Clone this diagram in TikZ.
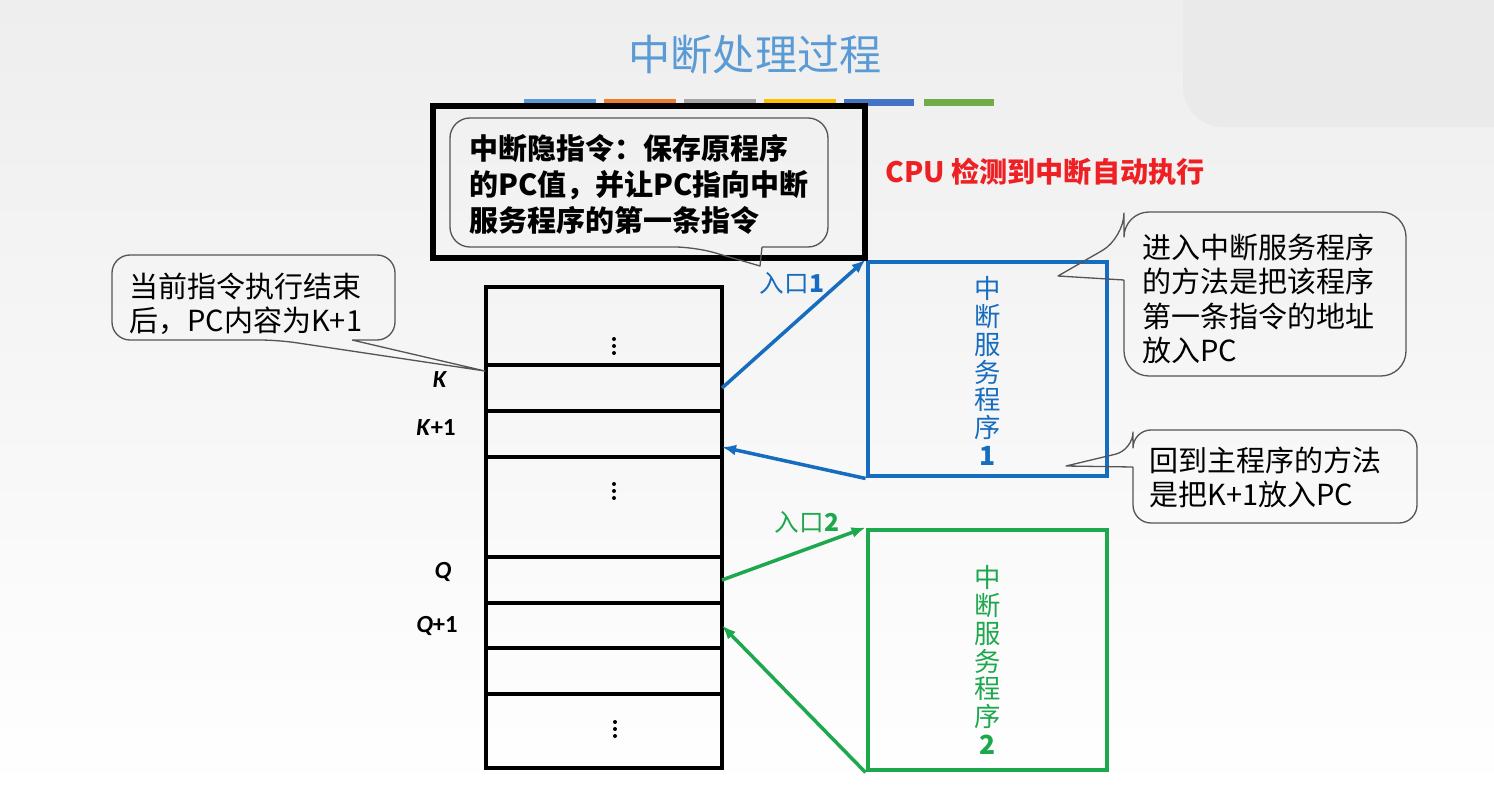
\documentclass[tikz,border=0pt]{standalone}
\usepackage{fontspec}
\usepackage{tikz}
\usetikzlibrary{arrows.meta, positioning, calc}
\newfontfamily\cjk{Noto Sans CJK SC}
\newfontfamily\latinfont{Carlito}
\definecolor{titleblue}{RGB}{91,155,213}
\definecolor{barorange}{RGB}{237,125,49}
\definecolor{bargray}{RGB}{165,165,165}
\definecolor{baryellow}{RGB}{255,192,0}
\definecolor{bardarkblue}{RGB}{68,114,196}
\definecolor{bargreen}{RGB}{112,173,71}
\definecolor{isrblue}{RGB}{22,108,190}
\definecolor{isrgreen}{RGB}{30,168,78}
\definecolor{alertred}{RGB}{238,32,36}
\definecolor{bubbleline}{RGB}{85,85,85}
\definecolor{bgtop}{RGB}{238,238,238}
\definecolor{bgshape}{RGB}{234,234,234}

\begin{document}
\begin{tikzpicture}[x=0.2mm, y=-0.2mm,
    cell/.style={draw, line width=2pt, minimum width=47.2mm, inner sep=0pt, outer sep=0pt},
    isrbox/.style={draw, line width=2.8pt, minimum width=47.8mm, inner sep=0pt},
    bubble/.style={draw=bubbleline, line width=0.75pt, line join=round},
    bubbletext/.style={font=\cjk\fontsize{16.5}{19.5}\selectfont, align=left, inner sep=0pt, anchor=west},
    vtext/.style={font=\cjk\fontsize{15}{15.8}\selectfont, align=center, inner sep=0pt},
    addr/.style={font=\latinfont\bfseries\fontsize{14}{14}\selectfont, inner sep=0pt},
    entry/.style={font=\cjk\fontsize{14}{14}\selectfont, inner sep=0pt},
    jump/.style={line width=2pt, -{Latex[length=2.8mm, width=2.2mm]}},
    dot/.style={fill=black}
]
    \useasboundingbox (0,0) rectangle (1494,796);
    \shade[top color=bgtop, bottom color=white] (0,0) rectangle (1494,796);
    \fill[bgshape, rounded corners=8mm] (1183,-100) rectangle (1600,127);

    \node[font=\cjk\fontsize{24}{24}\selectfont, text=titleblue] (title) at (755,55) {中断处理过程};
    \fill[titleblue] (524,99) rectangle (596,106);
    \fill[barorange] (604,99) rectangle (676,106);
    \fill[bargray] (684,99) rectangle (756,106);
    \fill[baryellow] (764,99) rectangle (836,106);
    \fill[bardarkblue] (844,99) rectangle (914,106);
    \fill[bargreen] (924,99) rectangle (994,106);

    \node[font=\cjk\bfseries\fontsize{16}{16}\selectfont, text=alertred] (cpu) at (1045,172) {CPU 检测到中断自动执行};

    \node[cell, minimum height=15.6mm] (mtop) at (604,326) {};
    \node[cell, minimum height=9.2mm] (mK) at (604,388) {};
    \node[cell, minimum height=9.2mm] (mK1) at (604,434) {};
    \node[cell, minimum height=20mm] (mmid) at (604,507) {};
    \node[cell, minimum height=9.2mm] (mQ) at (604,580) {};
    \node[cell, minimum height=9mm] (mQ1) at (604,625.5) {};
    \node[cell, minimum height=9.2mm] (mR) at (604,671) {};
    \node[cell, minimum height=14.8mm] (mbot) at (604,731) {};

    \fill[dot] (614,339) circle (2) (614,346) circle (2) (614,353) circle (2);
    \fill[dot] (614,484) circle (2) (614,491) circle (2) (614,498) circle (2);
    \fill[dot] (615,722) circle (2) (615,729) circle (2) (615,736) circle (2);

    \node[addr] (lK) at (440,380) {\textit{K}};
    \node[addr] (lK1) at (436,428) {\textit{K}+1};
    \node[addr] (lQ) at (443,572) {\textit{Q}};
    \node[addr] (lQ1) at (437,626) {\textit{Q}+1};

    \node[isrbox, draw=isrblue, minimum height=42.8mm] (isr1) at (987.5,369) {};
    \node[vtext, text=isrblue] (isr1label) at (988,371) {中\\断\\服\\务\\程\\序\\\textbf{1}};
    \node[isrbox, draw=isrgreen, minimum height=48mm] (isr2) at (987.5,650) {};
    \node[vtext, text=isrgreen] (isr2label) at (988,660) {中\\断\\服\\务\\程\\序\\\textbf{2}};

    \node[entry, text=isrblue] (in1) at (792,283) {入口\textbf{1}};
    \node[entry, text=isrgreen] (in2) at (807,522) {入口\textbf{2}};

    \draw[jump, isrblue] (mK.east) -- (isr1.north west);
    \draw[jump, isrblue] (isr1.south west) -- ([yshift=-2.6mm]mK1.east);
    \draw[jump, isrgreen] (mQ.east) -- (isr2.north west);
    \draw[jump, isrgreen] (isr2.south west) -- (mQ1.east);

    \draw[line width=3pt] (433,106) rectangle (865,258);

    \coordinate (tipHidden) at (760,266);
    \coordinate (tipK) at (485,371);
    \coordinate (tipEnter) at (1058,276);
    \coordinate (tipReturn) at (1066,466);

    \draw[bubble] (762,247) [rounded corners=4mm] -- (828,247) -- (828,118) -- (450,118) -- (450,247) -- (695,247) [sharp corners] -- (tipHidden) -- (762,247);
    \node[bubbletext, font=\cjk\bfseries\fontsize{16.5}{20.5}\selectfont] (hidden) at (469,184) {中断隐指令：保存原程序\\的PC值，并让PC指向中断\\服务程序的第一条指令};

    \draw[bubble] (352,340) [rounded corners=3.6mm] -- (395,340) -- (395,255) -- (112,255) -- (112,340) -- (278,340) [sharp corners] -- (tipK) -- (352,340);
    \node[bubbletext] (afterK) at (129,303.5) {当前指令执行结束\\后，PC内容为K+1};

    \draw[bubble] (1124,280) [rounded corners=5mm] -- (1124,376) -- (1406,376) -- (1406,212) -- (1124,212) -- (1124,238) [sharp corners] -- (tipEnter) -- (1124,280);
    \node[bubbletext] (enter) at (1142,299) {进入中断服务程序\\的方法是把该程序\\第一条指令的地址\\放入PC};

    \draw[bubble] (1133,467) [rounded corners=3.6mm] -- (1133,523) -- (1417,523) -- (1417,430) -- (1133,430) -- (1133,450) [sharp corners] -- (tipReturn) -- (1133,467);
    \node[bubbletext] (back) at (1149,477.5) {回到主程序的方法\\是把K+1放入PC};
\end{tikzpicture}
\end{document}
